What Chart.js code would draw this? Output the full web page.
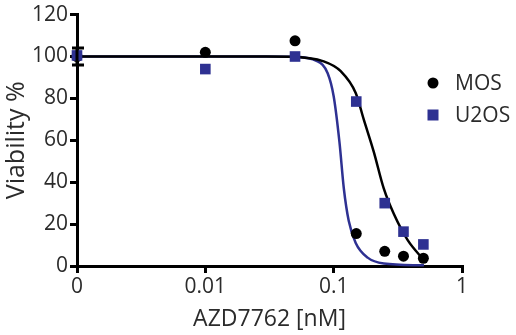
<!DOCTYPE html>
<html>
<head>
<meta charset="utf-8">
<script src="https://cdn.jsdelivr.net/npm/chart.js@4.4.1/dist/chart.umd.min.js"></script>
<style>
  html, body { margin:0; padding:0; background:#fff; }
  #wrap { width:516px; height:335px; }
</style>
</head>
<body>
<div id="wrap"><canvas id="viab" width="516" height="335"></canvas></div>
<script>
// doses in nM; 0 is drawn at 0.001 on the log axis
const doses = [0.001, 0.01, 0.05, 0.15, 0.25, 0.35, 0.5];
const mosVals  = [100, 102, 107.5, 15.5, 7, 4.7, 3.7];
const u2osVals = [100.5, 94, 100, 78.5, 30, 16.4, 10.3];
const mosErr   = [4, null, null, null, null, null, null];

// fitted curves
const mosFitX  = [0.001, 0.03, 0.046, 0.0835, 0.1135, 0.1485, 0.1715, 0.2054, 0.2456, 0.294, 0.3785, 0.505];
const mosFitY  = [100, 100, 99.9, 97.7, 93, 82.6, 70, 54.5, 37, 24.9, 12.2, 2.8];
const u2osFitX = [0.001, 0.03, 0.0461, 0.075, 0.0898, 0.1, 0.111, 0.12, 0.131, 0.1485, 0.184, 0.2456, 0.505];
const u2osFitY = [100, 100, 99.9, 97.7, 92, 81, 59, 37, 21.6, 11, 4, 1.2, 0.3];

const xTicks = [0.001, 0.01, 0.1, 1];
const xTickLabels = ['0', '0.01', '0.1', '1'];

const BLUE = '#2e3192';
const TXT = '#2b2b2b';
const FONT = '"Open Sans", "DejaVu Sans", sans-serif';

const pts = (xs, ys) => xs.map((x, i) => ({ x, y: ys[i] }));

const errorBars = {
  id: 'errorBars',
  afterDatasetsDraw(chart) {
    const { ctx, scales: { x, y } } = chart;
    ctx.save();
    ctx.strokeStyle = '#000';
    ctx.lineWidth = 3;
    mosErr.forEach((e, i) => {
      if (e == null) return;
      const px = x.getPixelForValue(doses[i]);
      const lo = y.getPixelForValue(mosVals[i] - e), hi = y.getPixelForValue(mosVals[i] + e);
      ctx.beginPath();
      ctx.moveTo(px, lo); ctx.lineTo(px, hi);
      ctx.moveTo(px - 5, lo); ctx.lineTo(px + 7, lo);
      ctx.moveTo(px - 5, hi); ctx.lineTo(px + 7, hi);
      ctx.stroke();
    });
    ctx.restore();
  }
};

const sideLegend = {
  id: 'sideLegend',
  afterDraw(chart) {
    const { ctx } = chart;
    ctx.save();
    ctx.fillStyle = '#000';
    ctx.beginPath(); ctx.arc(433, 83, 5.5, 0, Math.PI * 2); ctx.fill();
    ctx.fillStyle = BLUE;
    ctx.fillRect(427.5, 109.5, 11, 11);
    ctx.fillStyle = TXT;
    ctx.font = '21px ' + FONT;
    ctx.textBaseline = 'middle';
    ctx.fillText('MOS', 455, 84);
    ctx.fillText('U2OS', 455, 116);
    ctx.restore();
  }
};

new Chart(document.getElementById('viab'), {
  type: 'scatter',
  data: {
    datasets: [
      { label:'U2OS', data:pts(doses, u2osVals), pointStyle:'rect', pointRadius:7.5, pointHoverRadius:7.5,
        backgroundColor:BLUE, borderColor:BLUE, borderWidth:0, order:0, clip:false },
      { label:'MOS', data:pts(doses, mosVals), pointStyle:'circle', pointRadius:5.5, pointHoverRadius:5.5,
        backgroundColor:'#000', borderColor:'#000', borderWidth:0, order:1, clip:false },
      { label:'MOS fit', data:pts(mosFitX, mosFitY), showLine:true, pointRadius:0, borderColor:'#000',
        borderWidth:2.5, cubicInterpolationMode:'monotone', order:2, clip:false },
      { label:'U2OS fit', data:pts(u2osFitX, u2osFitY), showLine:true, pointRadius:0, borderColor:BLUE,
        borderWidth:2.5, cubicInterpolationMode:'monotone', order:3, clip:false }
    ]
  },
  options: {
    responsive:false, animation:false,
    layout:{ padding:{ top:11, right:54, left:0, bottom:0 } },
    plugins:{ legend:{ display:false }, tooltip:{ enabled:false } },
    scales:{
      x:{
        type:'logarithmic', min:0.001, max:1,
        afterBuildTicks: s => { s.ticks = xTicks.map(v => ({ value:v })); },
        afterFit: s => { s.height = 69; },
        ticks:{ autoSkip:false, maxRotation:0, padding:1, color:TXT, font:{ family:FONT, size:21 },
                callback:(v, i) => xTickLabels[i] },
        grid:{ drawOnChartArea:false, drawTicks:true, tickLength:7, lineWidth:3, color:'#000' },
        border:{ display:true, width:3, color:'#000' },
        title:{ display:true, text:'AZD7762 [nM]', color:TXT, font:{ family:FONT, size:23 }, padding:{ top:0, bottom:2 } }
      },
      y:{
        min:0, max:120,
        afterFit: s => { s.width = 77; },
        ticks:{ stepSize:20, padding:2, color:TXT, font:{ family:FONT, size:21 } },
        grid:{ drawOnChartArea:false, drawTicks:true, tickLength:7, lineWidth:3, color:'#000' },
        border:{ display:true, width:3, color:'#000' },
        title:{ display:true, text:'Viability %', color:TXT, font:{ family:FONT, size:25 }, padding:{ top:2, bottom:0 } }
      }
    }
  },
  plugins:[errorBars, sideLegend]
});
</script>
</body>
</html>
